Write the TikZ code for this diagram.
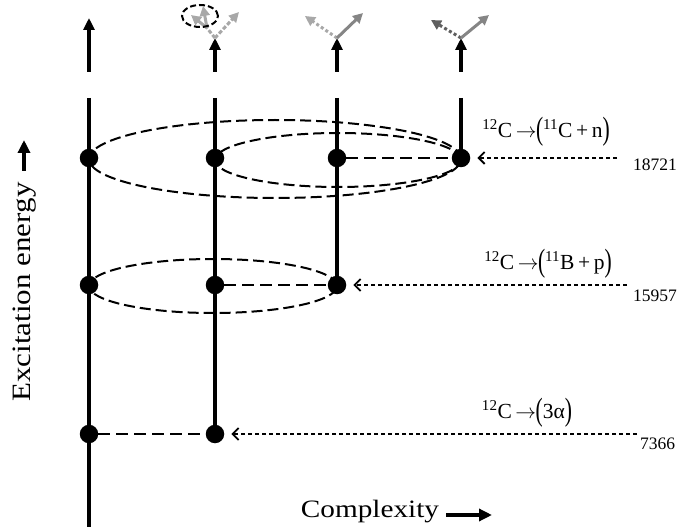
\documentclass[tikz,border=0pt]{standalone}
\usepackage{fontspec}
\usepackage{graphicx}
\setmainfont{Liberation Serif}
\newfontfamily\bigfont[FakeStretch=1.17]{Liberation Serif}
\usetikzlibrary{arrows.meta}
\definecolor{lgray}{HTML}{A8A8A8}
\definecolor{mgray}{HTML}{858585}
\definecolor{dgray}{HTML}{5F5F5F}
\newcommand{\bpar}[1]{\raisebox{-0.25ex}{\scalebox{1}[1.5]{#1}}}
\newcommand{\rarr}{\,$\rightarrow$\hspace{-0.5pt}}
\begin{document}
\begin{tikzpicture}[x=1pt,y=-1pt,
  dotnode/.style={circle,fill=black,inner sep=0pt,minimum size=18.5pt},
  colline/.style={line width=3.2pt},
  uparrow/.style={line width=3.2pt,-{Triangle[length=12pt,width=11pt]}},
  grayarrow/.style={line width=3pt,-{Triangle[length=10pt,width=10pt]}},
  ellip/.style={draw,dash pattern=on 11pt off 5pt,line width=2pt},
  link/.style={dash pattern=on 12pt off 6pt,line width=2pt},
  levelarrow/.style={dash pattern=on 4.5pt off 2.5pt,line width=1.8pt,shorten >=7pt,-{Straight Barb[length=6pt,width=12pt,line width=1.8pt]}},
  reac/.style={font=\fontsize{21.5}{24}\selectfont,inner sep=0pt},
  num/.style={font=\fontsize{17.5}{18}\selectfont,inner sep=0pt},
  axislab/.style={inner sep=0pt},
  axisarrow/.style={line width=3.5pt,-{Triangle[length=13pt,width=12pt]}}]
\useasboundingbox (0,0) rectangle (678,532);

% column tops
\coordinate (t1) at (89,98);
\coordinate (t2) at (215,98);
\coordinate (t3) at (337,98);
\coordinate (t4) at (461,98);
\coordinate (b1) at (89,527);

% dots
\node[dotnode] (a1) at (89,158) {};
\node[dotnode] (a2) at (215,158) {};
\node[dotnode] (a3) at (337,158) {};
\node[dotnode] (a4) at (461,158) {};
\node[dotnode] (m1) at (89,285) {};
\node[dotnode] (m2) at (215,285) {};
\node[dotnode] (m3) at (337,285) {};
\node[dotnode] (l1) at (89,434) {};
\node[dotnode] (l2) at (215,434) {};

% vertical lines
\draw[colline] (t1) -- (b1);
\draw[colline] (t2) -- (l2.center);
\draw[colline] (t3) -- (m3.center);
\draw[colline] (t4) -- (a4.center);

% ellipses
\draw[ellip] (275,159) ellipse [x radius=186pt, y radius=39pt];
\draw[ellip] (338,160) ellipse [x radius=123pt, y radius=27pt];
\draw[ellip] (213,286) ellipse [x radius=124pt, y radius=27pt];

% dashed links
\draw[link] (a3) -- (a4);
\draw[link] (m2) -- (m3);
\draw[link] (l1) -- (l2);

% level arrows
\coordinate (e1) at (617,158);
\coordinate (e2) at (627,285);
\coordinate (e3) at (637,434);
\draw[levelarrow] (e1) -- (a4);
\draw[levelarrow] (e2) -- (m3);
\draw[levelarrow] (e3) -- (l2);

% top arrows
\coordinate (s1) at (89,72);
\coordinate (p1) at (89,18);
\coordinate (s2) at (215,72);
\coordinate (p2) at (215,38);
\coordinate (s3) at (337,72);
\coordinate (p3) at (337,38);
\coordinate (s4) at (461,72);
\coordinate (p4) at (461,38);
\draw[uparrow] (s1) -- (p1);
\draw[uparrow] (s2) -- (p2);
\draw[uparrow] (s3) -- (p3);
\draw[uparrow] (s4) -- (p4);

% col 2 gray products
\coordinate (q2r) at (239,12);
\coordinate (q2j) at (207,28);
\coordinate (q2a) at (191,15);
\coordinate (q2b) at (203,6);
\draw[grayarrow,lgray,dash pattern=on 4pt off 2pt] (p2) -- (q2r);
\draw[line width=3pt,lgray,dash pattern=on 4pt off 2pt] (p2) -- (q2j);
\draw[grayarrow,lgray] (q2j) -- (q2a);
\draw[grayarrow,lgray] (q2j) -- (q2b);
\draw[dash pattern=on 6pt off 3pt,line width=2pt] (200,16) ellipse [x radius=18pt, y radius=11pt];

% col 3
\coordinate (q3l) at (305,16);
\coordinate (q3r) at (363,13);
\draw[grayarrow,lgray,dash pattern=on 3pt off 2.5pt] (p3) -- (q3l);
\draw[grayarrow,mgray] (p3) -- (q3r);

% col 4
\coordinate (q4l) at (431,20);
\coordinate (q4r) at (489,15);
\draw[grayarrow,dgray,dash pattern=on 3pt off 2.5pt] (p4) -- (q4l);
\draw[grayarrow,mgray] (p4) -- (q4r);

% reaction labels
\node[reac] (r1) at (546,132) {\textsuperscript{12}C\rarr\bpar{(}\textsuperscript{11}C\,+\,n\bpar{)}};
\node[reac] (r2) at (548,264) {\textsuperscript{12}C\rarr\bpar{(}\textsuperscript{11}B\,+\,p\bpar{)}};
\node[reac] (r3) at (527,413) {\textsuperscript{12}C\rarr\bpar{(}3α\bpar{)}};
\node[num,anchor=west] (n1) at (633,165) {18721};
\node[num,anchor=west] (n2) at (633,296) {15957};
\node[num,anchor=west] (n3) at (640,444) {7366};

% axis labels
\node[axislab,rotate=90,font=\bigfont\fontsize{26.5}{30}\selectfont] (ylab) at (25,292) {Excitation energy};
\coordinate (ya) at (24,171);
\coordinate (yb) at (24,140);
\draw[axisarrow] (ya) -- (yb);
\node[axislab,font=\bigfont\fontsize{25}{30}\selectfont] (xlab) at (370,512) {Complexity};
\coordinate (xa) at (446,515);
\coordinate (xb) at (492,515);
\draw[axisarrow] (xa) -- (xb);
\end{tikzpicture}
\end{document}
